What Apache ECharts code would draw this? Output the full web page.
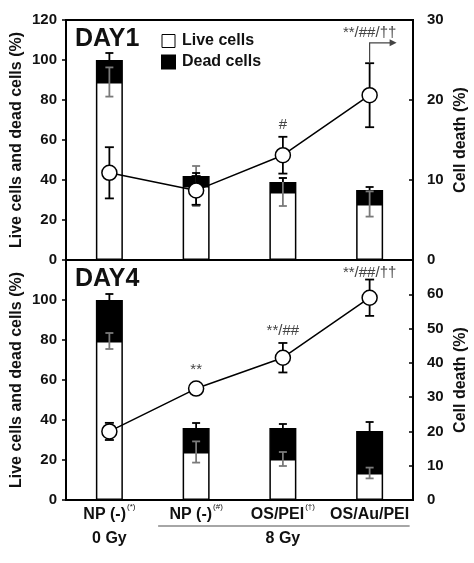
<!DOCTYPE html>
<html><head><meta charset="utf-8">
<script src="https://cdn.jsdelivr.net/npm/echarts@6/dist/echarts.min.js"></script>
<style>html,body{margin:0;padding:0;background:#fff}#c{width:474px;height:563px}</style>
</head><body><div id="c"></div>
<script>
const categories = ['NP (-)', 'NP (-) ', 'OS/PEI', 'OS/Au/PEI'];
const categorySup = ['(*)', '(#)', '(†)', ''];
const doseLabels = ['0 Gy', '', '8 Gy', ''];

const day1Live = [89, 37, 34, 28];
const day1Dead = [11, 5, 5, 7];
const day1LiveErr = [7.3, 10, 7, 6.3];
const day1TotalErr = [3.5, 1.5, 2, 1.5];
const day1Death = [10.9, 8.7, 13.1, 20.6];
const day1DeathErr = [3.2, 1.8, 2.3, 4.0];
const day1Notes = ['', '', '#', '**/##/††'];
const day1NotePos = [0, 0, 16.9, 28.4];

const day4Live = [79.5, 24, 20.5, 13.5];
const day4Dead = [20.5, 12, 15.5, 21];
const day4LiveErr = [4, 5.3, 3.5, 2.7];
const day4TotalErr = [3, 2.5, 2, 4.5];
const day4Death = [20, 32.5, 41.5, 59];
const day4DeathErr = [2.5, 1.5, 4.3, 5.3];
const day4Notes = ['', '**', '**/##', '**/##/††'];
const day4NotePos = [0, 37.9, 49.3, 66.2];

const leftTicks = { min: 0, max: 120, interval: 20 };
const rightTop = { min: 0, max: 30, interval: 10 };
const rightBottom = { min: 0, max: 70, interval: 10 };

const FONT = 'Liberation Sans, Arial, sans-serif';
const chart = echarts.init(document.getElementById('c'));

function errRender(color, capHalf, bothCaps) {
  return function (params, api) {
    const x = api.value(0), lo = api.value(1), hi = api.value(2);
    const p1 = api.coord([x, lo]);
    const p2 = api.coord([x, hi]);
    const st = { stroke: color, lineWidth: 1.8 };
    const ch = [
      { type: 'line', shape: { x1: p1[0], y1: p1[1], x2: p2[0], y2: p2[1] }, style: st },
      { type: 'line', shape: { x1: p2[0] - capHalf, y1: p2[1], x2: p2[0] + capHalf, y2: p2[1] }, style: st }
    ];
    if (bothCaps) ch.push({ type: 'line', shape: { x1: p1[0] - capHalf, y1: p1[1], x2: p1[0] + capHalf, y2: p1[1] }, style: st });
    return { type: 'group', children: ch };
  };
}

function errData(center, err) { return center.map((v, i) => [i, v - err[i], v + err[i]]); }
function topErrData(live, dead, err) { return live.map((v, i) => [i, v + dead[i], v + dead[i] + err[i]]); }

function noteSeries(xi, yi, notes, pos, arrowIdx, arrowFrom) {
  return {
    type: 'custom', xAxisIndex: xi, yAxisIndex: yi, z: 10, silent: true,
    data: notes.map((t, i) => [i, pos[i]]),
    renderItem: function (params, api) {
      const i = params.dataIndex;
      const t = notes[i];
      if (!t) return null;
      const p = api.coord([api.value(0), api.value(1)]);
      const ch = [{ type: 'text', x: p[0], y: p[1], style: { text: t, fill: '#444', font: '15px ' + FONT, textAlign: 'center', textVerticalAlign: 'middle' } }];
      if (arrowIdx === i) {
        const a = api.coord([i, arrowFrom]);
        const yTop = p[1] + 10;
        const xEnd = p[0] + 27;
        ch.push({ type: 'polyline', shape: { points: [[a[0], a[1]], [a[0], yTop], [xEnd - 5, yTop]] }, style: { stroke: '#444', lineWidth: 1.2, fill: null } });
        ch.push({ type: 'polygon', shape: { points: [[xEnd, yTop], [xEnd - 7, yTop - 3.5], [xEnd - 7, yTop + 3.5]] }, style: { fill: '#444' } });
      }
      return { type: 'group', children: ch };
    }
  };
}

const grids = [
  { left: 66, right: 61, top: 20, height: 240, show: true, borderColor: '#000', borderWidth: 2, containLabel: false, outerBoundsMode: 'none' },
  { left: 66, right: 61, top: 260, height: 240, show: true, borderColor: '#000', borderWidth: 2, containLabel: false, outerBoundsMode: 'none' }
];

const xCommon = { type: 'category', data: categories, axisTick: { show: false }, axisLine: { lineStyle: { color: '#000', width: 2 } } };

function yAxis(gi, pos, cfg, hideTop, name) {
  const left = pos === 'left';
  return {
    type: 'value', gridIndex: gi, position: pos, min: cfg.min, max: cfg.max, interval: cfg.interval,
    splitLine: { show: false },
    axisLine: { show: true, lineStyle: { color: '#000', width: 2 } },
    axisTick: { show: true, inside: !left, length: 4, lineStyle: { color: '#000', width: 1.5 } },
    axisLabel: {
      margin: left ? 9 : 14, color: '#111', fontWeight: 'bold', fontSize: 15, fontFamily: FONT,
      formatter: v => (hideTop && v === cfg.max) ? '' : String(v)
    },
    name: name, nameLocation: 'middle', nameGap: left ? 41 : 40, nameRotate: 90, nameMoveOverlap: false,
    nameTextStyle: { color: '#111', fontWeight: 'bold', fontSize: 16, fontFamily: FONT }
  };
}

const labelRich = {
  m: { fontWeight: 'bold', fontSize: 16, fontFamily: FONT, color: '#111', lineHeight: 24 },
  s: { fontSize: 8, fontFamily: FONT, color: '#111', verticalAlign: 'top', padding: [0, 0, 8, 1] }
};

const option = {
  animation: false,
  backgroundColor: '#fff',
  grid: grids,
  legend: {
    left: 156, top: 28, orient: 'vertical', itemWidth: 13, itemHeight: 13, itemGap: 5,
    textStyle: { fontSize: 16, fontWeight: 'bold', fontFamily: FONT, color: '#111', padding: [0, 0, 0, 2] },
    data: [
      { name: 'Live cells', icon: 'rect', itemStyle: { color: '#fff', borderColor: '#000', borderWidth: 1 } },
      { name: 'Dead cells', icon: 'rect', itemStyle: { color: '#000' } }
    ]
  },
  title: [
    { text: 'DAY1', left: 70, top: 22, textStyle: { fontSize: 25, fontWeight: 'bold', fontFamily: FONT, color: '#111' } },
    { text: 'DAY4', left: 70, top: 262, textStyle: { fontSize: 25, fontWeight: 'bold', fontFamily: FONT, color: '#111' } }
  ],
  xAxis: [
    Object.assign({}, xCommon, { gridIndex: 0, axisLabel: { show: false } }),
    Object.assign({}, xCommon, {
      gridIndex: 1,
      axisLabel: {
        margin: 3, interval: 0,
        formatter: (v, i) => '{m|' + v.trim() + '}' + (categorySup[i] ? '{s|' + categorySup[i] + '}' : '') + '\n{m|' + (doseLabels[i] || ' ') + '}',
        rich: labelRich
      }
    })
  ],
  yAxis: [
    yAxis(0, 'left', leftTicks, false, 'Live cells and dead cells (%)'),
    yAxis(0, 'right', rightTop, false, 'Cell death (%)'),
    yAxis(1, 'left', leftTicks, true, 'Live cells and dead cells (%)'),
    yAxis(1, 'right', rightBottom, true, 'Cell death (%)')
  ],
  series: [
    { name: 'Live cells', type: 'bar', xAxisIndex: 0, yAxisIndex: 0, stack: 'd1', barWidth: 27, data: day1Live, itemStyle: { color: '#fff', borderColor: '#000', borderWidth: 1.5 }, z: 2 },
    { name: 'Dead cells', type: 'bar', xAxisIndex: 0, yAxisIndex: 0, stack: 'd1', barWidth: 27, data: day1Dead, itemStyle: { color: '#000', borderColor: '#000', borderWidth: 1.5 }, z: 2 },
    { name: 'Live cells', type: 'bar', xAxisIndex: 1, yAxisIndex: 2, stack: 'd4', barWidth: 27, data: day4Live, itemStyle: { color: '#fff', borderColor: '#000', borderWidth: 1.5 }, z: 2 },
    { name: 'Dead cells', type: 'bar', xAxisIndex: 1, yAxisIndex: 2, stack: 'd4', barWidth: 27, data: day4Dead, itemStyle: { color: '#000', borderColor: '#000', borderWidth: 1.5 }, z: 2 },

    { type: 'custom', xAxisIndex: 0, yAxisIndex: 0, z: 3, silent: true, data: errData(day1Live, day1LiveErr), renderItem: errRender('#7a7a7a', 4, true) },
    { type: 'custom', xAxisIndex: 0, yAxisIndex: 0, z: 3, silent: true, data: topErrData(day1Live, day1Dead, day1TotalErr), renderItem: errRender('#000', 4, false) },
    { type: 'custom', xAxisIndex: 1, yAxisIndex: 2, z: 3, silent: true, data: errData(day4Live, day4LiveErr), renderItem: errRender('#7a7a7a', 4, true) },
    { type: 'custom', xAxisIndex: 1, yAxisIndex: 2, z: 3, silent: true, data: topErrData(day4Live, day4Dead, day4TotalErr), renderItem: errRender('#000', 4, false) },

    { type: 'custom', xAxisIndex: 0, yAxisIndex: 1, z: 4, silent: true, data: errData(day1Death, day1DeathErr), renderItem: errRender('#000', 4.5, true) },
    { type: 'custom', xAxisIndex: 1, yAxisIndex: 3, z: 4, silent: true, data: errData(day4Death, day4DeathErr), renderItem: errRender('#000', 4.5, true) },

    { type: 'line', xAxisIndex: 0, yAxisIndex: 1, z: 6, data: day1Death, symbol: 'circle', symbolSize: 15, lineStyle: { color: '#000', width: 1.5 }, itemStyle: { color: '#fff', borderColor: '#000', borderWidth: 1.5 } },
    { type: 'line', xAxisIndex: 1, yAxisIndex: 3, z: 6, data: day4Death, symbol: 'circle', symbolSize: 15, lineStyle: { color: '#000', width: 1.5 }, itemStyle: { color: '#fff', borderColor: '#000', borderWidth: 1.5 } },

    noteSeries(0, 1, day1Notes, day1NotePos, 3, day1Death[3] + day1DeathErr[3]),
    noteSeries(1, 3, day4Notes, day4NotePos, -1, 0)
  ]
};
chart.setOption(option);

// grey bracket line under the 8 Gy categories
const pA = chart.convertToPixel({ xAxisIndex: 1 }, 1);
const pB = chart.convertToPixel({ xAxisIndex: 1 }, 3);
chart.setOption({
  graphic: [{ type: 'line', shape: { x1: pA - 38, y1: 526, x2: pB + 40, y2: 526 }, style: { stroke: '#888', lineWidth: 1.5 } }]
});
</script></body></html>
